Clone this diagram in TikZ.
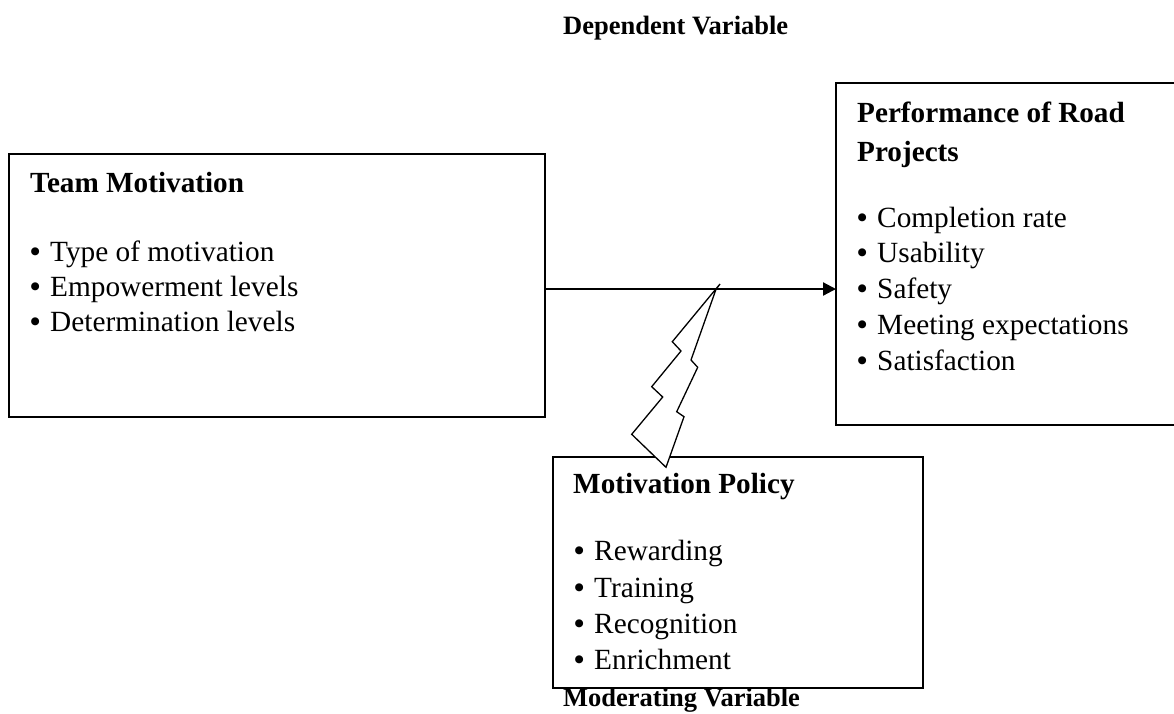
\documentclass[tikz,border=0pt]{standalone}
\usepackage{fontspec}
\setmainfont{Liberation Serif}
\usetikzlibrary{arrows.meta}
\begin{document}
\begin{tikzpicture}[x=1pt,y=-1pt,
  box/.style={draw, line width=1.4pt, inner sep=0pt, outer sep=0pt, anchor=north west},
  ttl/.style={anchor=base west, inner sep=0pt, font=\fontsize{29.2}{35}\selectfont\bfseries},
  itm/.style={anchor=base west, inner sep=0pt, font=\fontsize{29.3}{35}\selectfont},
  lbl/.style={anchor=base west, inner sep=0pt, font=\fontsize{26.5}{32}\selectfont\bfseries},
  link/.style={line width=2.2pt, -{Triangle[length=13pt,width=13pt]}},
  bolt/.style={draw, fill=white, line width=1.3pt, line join=miter}]
\useasboundingbox (0,0) rectangle (1174,713);
\clip (0,0) rectangle (1174,713);
% list item: bullet followed by the entry text
\newcommand{\bul}[1]{\makebox[20pt][l]{\bfseries •}#1}

% variable labels
\node[lbl] (dep) at (563,34) {Dependent Variable};
\node[lbl] (mod) at (563,706) {Moderating Variable};

% independent variable box
\node[box, minimum width=536pt, minimum height=263pt] (team) at (9,154) {};
\node[ttl] (team-t) at (30,192) {Team Motivation};
\node[itm] (team-1) at (30,261) {\bul{Type of motivation}};
\node[itm] (team-2) at (30,296) {\bul{Empowerment levels}};
\node[itm] (team-3) at (30,331) {\bul{Determination levels}};

% dependent variable box
\node[box, minimum width=341pt, minimum height=342pt] (perf) at (836,83) {};
\node[ttl] (perf-t1) at (857,122) {Performance of Road};
\node[ttl] (perf-t2) at (857,161) {Projects};
\node[itm] (perf-1) at (857,227) {\bul{Completion rate}};
\node[itm] (perf-2) at (857,262) {\bul{Usability}};
\node[itm] (perf-3) at (857,298) {\bul{Safety}};
\node[itm] (perf-4) at (857,334) {\bul{Meeting expectations}};
\node[itm] (perf-5) at (857,370) {\bul{Satisfaction}};

% moderating variable box
\node[box, minimum width=370pt, minimum height=231pt] (pol) at (553,457) {};
\node[ttl] (pol-t) at (573,493) {Motivation Policy};
\node[itm] (pol-1) at (574,560) {\bul{Rewarding}};
\node[itm] (pol-2) at (574,597) {\bul{Training}};
\node[itm] (pol-3) at (574,633) {\bul{Recognition}};
\node[itm] (pol-4) at (574,669) {\bul{Enrichment}};

% main relationship
\coordinate (arrowy) at (0,289);
\draw[link] (team.east |- arrowy) -- (perf.west |- arrowy);

% moderating effect (lightning bolt)
\draw[bolt] (720,284) -- (672.3,341.7) -- (681,351) -- (651.7,386.7)
  -- (662.7,397) -- (631.7,434.3) -- (666,467.3) -- (684,416.7)
  -- (676.7,411.7) -- (697.7,367.3) -- (691,360) -- (716,289.3) -- cycle;
\end{tikzpicture}
\end{document}
